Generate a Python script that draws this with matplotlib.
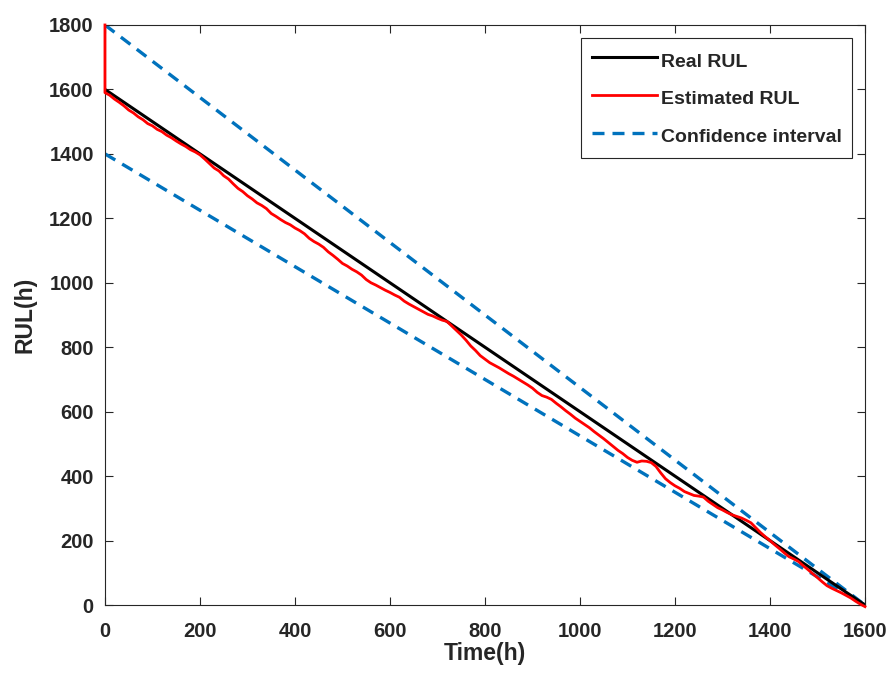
import matplotlib
matplotlib.use("Agg")
import matplotlib.pyplot as plt

# time axis (h) and RUL curves
real_t = [0, 1600]
real_rul = [1600, 0]
ci_t = [0, 1600]
ci_upper = [1800, 0]
ci_lower = [1400, 0]

# estimated RUL, sampled every 10 h (first point is the 1800 h start-up spike)
est_t = [0] + list(range(0, 1601, 10))
est_rul = [1800,
           1590, 1582, 1570, 1560, 1549, 1536, 1527, 1515, 1506, 1494,
           1487, 1476, 1469, 1458, 1450, 1440, 1431, 1423, 1413, 1406,
           1397, 1384, 1370, 1356, 1347, 1332, 1322, 1307, 1293, 1283,
           1270, 1260, 1248, 1240, 1230, 1215, 1206, 1196, 1187, 1180,
           1170, 1162, 1152, 1138, 1128, 1120, 1110, 1096, 1085, 1073,
           1060, 1052, 1042, 1034, 1024, 1010, 1000, 993, 985, 977,
           970, 962, 955, 943, 934, 926, 918, 910, 902, 897,
           890, 884, 880, 866, 852, 838, 822, 804, 790, 774,
           763, 752, 744, 736, 727, 718, 710, 701, 692, 683,
           673, 660, 650, 645, 638, 626, 615, 603, 592, 580,
           570, 560, 550, 538, 527, 516, 504, 492, 480, 470,
           458, 449, 443, 447, 446, 442, 430, 410, 392, 380,
           370, 362, 352, 346, 340, 338, 335, 322, 312, 302,
           295, 287, 280, 275, 270, 263, 255, 240, 225, 212,
           200, 187, 175, 162, 150, 143, 135, 122, 110, 97,
           85, 72, 60, 52, 45, 38, 30, 22, 12, 3,
           -5]

plt.rcParams["font.family"] = ["Liberation Sans", "DejaVu Sans"]

fig = plt.figure(figsize=(8.91, 6.73), dpi=100)
ax = fig.add_axes([0.1178, 0.1010, 0.8530, 0.8619])

ax.plot(real_t, real_rul, color="black", linewidth=2.2, label="Real RUL", zorder=3)
ax.plot(est_t, est_rul, color="#ff0000", linewidth=2.0, label="Estimated RUL",
        zorder=4, clip_on=False)
ax.plot(ci_t, ci_upper, color="#0072bd", linewidth=2.4, linestyle=(0, (3.6, 2.4)),
        label="Confidence interval", zorder=2)
ax.plot(ci_t, ci_lower, color="#0072bd", linewidth=2.4, linestyle=(0, (3.6, 2.4)), zorder=2)

ax.set_xlim(0, 1600)
ax.set_ylim(0, 1800)
ax.set_xticks(range(0, 1601, 200))
ax.set_yticks(range(0, 1801, 200))
ax.tick_params(direction="in", top=True, right=True, length=6, width=0.8,
               colors="#262626", labelsize=14.5)
ax.tick_params(axis="x", pad=12)
ax.tick_params(axis="y", pad=8)
for lbl in ax.get_xticklabels() + ax.get_yticklabels():
    lbl.set_fontweight("bold")
    lbl.set_color("#262626")
for sp in ax.spines.values():
    sp.set_color("#262626")
    sp.set_linewidth(0.8)

ax.set_xlabel("Time(h)", fontsize=16.5, fontweight="bold", color="#262626", labelpad=1)
ax.set_ylabel("RUL(h)", fontsize=16.5, fontweight="bold", color="#262626", labelpad=9)

leg = ax.legend(loc="upper right", fontsize=14, handlelength=3.35, handletextpad=0.2,
                handleheight=1.5, borderaxespad=0.65, borderpad=0.55, fancybox=False,
                edgecolor="#262626", framealpha=1, labelspacing=0.72)
leg.get_frame().set_linewidth(0.8)
for txt in leg.get_texts():
    txt.set_fontweight("bold")
    txt.set_color("#262626")

plt.savefig("out.png", dpi=100)
plt.close(fig)
